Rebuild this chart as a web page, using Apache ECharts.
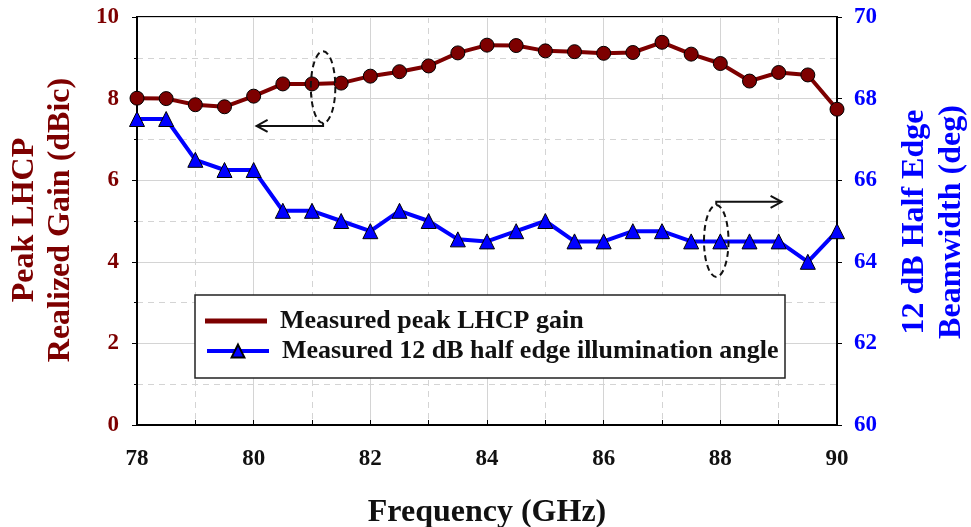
<!DOCTYPE html>
<html><head><meta charset="utf-8">
<script src="https://cdn.jsdelivr.net/npm/echarts@6/dist/echarts.min.js"></script>
<style>html,body{margin:0;padding:0;background:#fff}#c{width:971px;height:527px}</style>
</head><body><div id="c"></div><script>
// ---- data ----
const freqGHz = [78,78.5,79,79.5,80,80.5,81,81.5,82,82.5,83,83.5,84,84.5,85,85.5,86,86.5,87,87.5,88,88.5,89,89.5,90];
const peakGain = [8.01,8.0,7.85,7.8,8.06,8.36,8.36,8.38,8.55,8.66,8.8,9.12,9.31,9.3,9.17,9.15,9.11,9.13,9.38,9.09,8.86,8.43,8.64,8.58,7.74];
const beamwidth = [67.5,67.5,66.5,66.25,66.25,65.25,65.25,65.0,64.75,65.25,65.0,64.55,64.5,64.75,65.0,64.5,64.5,64.75,64.75,64.5,64.5,64.5,64.5,64.0,64.75];
const xRange = [78, 90, 2];
const gainRange = [0, 10, 2];
const beamRange = [60, 70, 2];
const seriesNames = ['Measured peak LHCP gain', 'Measured 12 dB half edge illumination angle'];
const leftTitle = 'Peak LHCP\nRealized Gain (dBic)';
const rightTitle = '12 dB Half Edge\nBeamwidth (deg)';
const xTitle = 'Frequency (GHz)';

const FONT = '"Liberation Serif", "Times New Roman", serif';
const RED = '#7d0000';
const BLUE = '#0000ff';

const chart = echarts.init(document.getElementById('c'));
const gridLine = {show: true, lineStyle: {color: '#d4d4d4', width: 1, type: 'solid'}};
const minorLine = {show: true, lineStyle: {color: '#d4d4d4', width: 1, type: [6, 5]}};

const option = {
  backgroundColor: '#fff',
  animation: false,
  grid: {left: 137, right: 134, top: 17, bottom: 102, show: true, borderColor: '#000', borderWidth: 2,
    backgroundColor: 'transparent', outerBoundsMode: 'none', containLabel: false},
  xAxis: {
    type: 'value', min: xRange[0], max: xRange[1], interval: xRange[2],
    name: xTitle, nameLocation: 'middle', nameGap: 72,
    nameTextStyle: {fontFamily: FONT, fontWeight: 'bold', fontSize: 32, color: '#111'},
    axisLine: {lineStyle: {color: '#000', width: 2}},
    axisTick: {show: true, inside: true, length: 5, lineStyle: {color: '#000'}},
    minorTick: {show: true, splitNumber: 2, length: 5, lineStyle: {color: '#000'}},
    axisLabel: {fontFamily: FONT, fontWeight: 'bold', fontSize: 23, color: '#111', margin: 23},
    splitLine: gridLine,
    minorSplitLine: minorLine
  },
  yAxis: [{
    type: 'value', min: gainRange[0], max: gainRange[1], interval: gainRange[2], position: 'left',
    axisLine: {show: true, lineStyle: {color: '#000', width: 2}},
    axisTick: {show: true, inside: false, length: 5, lineStyle: {color: '#000'}},
    minorTick: {show: true, splitNumber: 2, length: 3, lineStyle: {color: '#000'}},
    axisLabel: {fontFamily: FONT, fontWeight: 'bold', fontSize: 23, color: RED, margin: 18},
    splitLine: gridLine,
    minorSplitLine: minorLine
  }, {
    type: 'value', min: beamRange[0], max: beamRange[1], interval: beamRange[2], position: 'right',
    axisLine: {show: true, lineStyle: {color: '#000', width: 2}},
    axisTick: {show: true, inside: false, length: 5, lineStyle: {color: '#000'}},
    axisLabel: {fontFamily: FONT, fontWeight: 'bold', fontSize: 23, color: BLUE, margin: 17},
    splitLine: {show: false}
  }],
  legend: [{
    data: [{name: seriesNames[0], icon: 'rect'}],
    left: 205, top: 308, padding: 0, itemWidth: 62, itemHeight: 5,
    itemStyle: {borderWidth: 0, color: RED},
    textStyle: {fontFamily: FONT, fontWeight: 'bold', fontSize: 26, color: '#111', padding: [0, 0, 0, 8]},
    selectedMode: false, z: 12
  }, {
    data: [seriesNames[1]],
    left: 205, top: 338, padding: 0, itemWidth: 62, itemHeight: 16,
    lineStyle: {width: 4, color: BLUE},
    textStyle: {fontFamily: FONT, fontWeight: 'bold', fontSize: 26, color: '#111', padding: [0, 0, 0, 8]},
    selectedMode: false, z: 12
  }],
  series: [{
    name: seriesNames[0], type: 'line', yAxisIndex: 0,
    data: freqGHz.map((f, i) => [f, peakGain[i]]),
    symbol: 'circle', symbolSize: 14,
    lineStyle: {color: RED, width: 4},
    itemStyle: {color: RED, borderColor: '#000', borderWidth: 1},
    z: 4
  }, {
    name: seriesNames[1], type: 'line', yAxisIndex: 1,
    data: freqGHz.map((f, i) => [f, beamwidth[i]]),
    symbol: 'triangle', symbolSize: 15,
    lineStyle: {color: BLUE, width: 4},
    itemStyle: {color: BLUE, borderColor: '#000', borderWidth: 1},
    z: 3
  }]
};
chart.setOption(option);

// ---- annotations (positions in data coordinates of the left axis) ----
const ellipses = [[81.19, 8.28, 0.21, 0.88], [87.93, 4.51, 0.21, 0.88]];
const arrows = [[81.19, 7.40, 7.33, 80.05], [87.93, 5.40, 5.47, 89.05]];

function px(x, y) { return chart.convertToPixel({xAxisIndex: 0, yAxisIndex: 0}, [x, y]); }
const g = [];
ellipses.forEach(e => {
  const c = px(e[0], e[1]);
  const r = px(e[0] + e[2], e[1] + e[3]);
  g.push({type: 'ellipse', z: 10, shape: {cx: c[0], cy: c[1], rx: Math.abs(r[0] - c[0]), ry: Math.abs(c[1] - r[1])},
    style: {fill: 'none', stroke: '#111', lineWidth: 2, lineDash: [6, 4]}});
});
arrows.forEach(a => {
  const p0 = px(a[0], a[1]);
  const p1 = px(a[0], a[2]);
  const p2 = px(a[3], a[2]);
  const dir = p2[0] > p1[0] ? 1 : -1;
  g.push({type: 'polyline', z: 10, shape: {points: [p0, p1, p2]}, style: {fill: 'none', stroke: '#111', lineWidth: 2}});
  g.push({type: 'polyline', z: 10, shape: {points: [[p2[0] - dir * 11, p2[1] - 6], p2, [p2[0] - dir * 11, p2[1] + 6]]}, style: {fill: 'none', stroke: '#111', lineWidth: 2}});
});
// legend box
g.push({type: 'rect', z: 8, shape: {x: 195, y: 295, width: 590, height: 83}, style: {fill: '#fff', stroke: '#222', lineWidth: 1.5}});
// axis titles
g.push({type: 'text', z: 10, x: 43, y: 220, rotation: Math.PI / 2,
  style: {text: leftTitle, font: 'bold 32px ' + FONT, fill: RED, textAlign: 'center', textVerticalAlign: 'middle', align: 'center', verticalAlign: 'middle', lineHeight: 36}});
g.push({type: 'text', z: 10, x: 933, y: 222, rotation: Math.PI / 2,
  style: {text: rightTitle, font: 'bold 32px ' + FONT, fill: BLUE, textAlign: 'center', textVerticalAlign: 'middle', align: 'center', verticalAlign: 'middle', lineHeight: 37}});
chart.setOption({graphic: {elements: g}});
</script></body></html>
